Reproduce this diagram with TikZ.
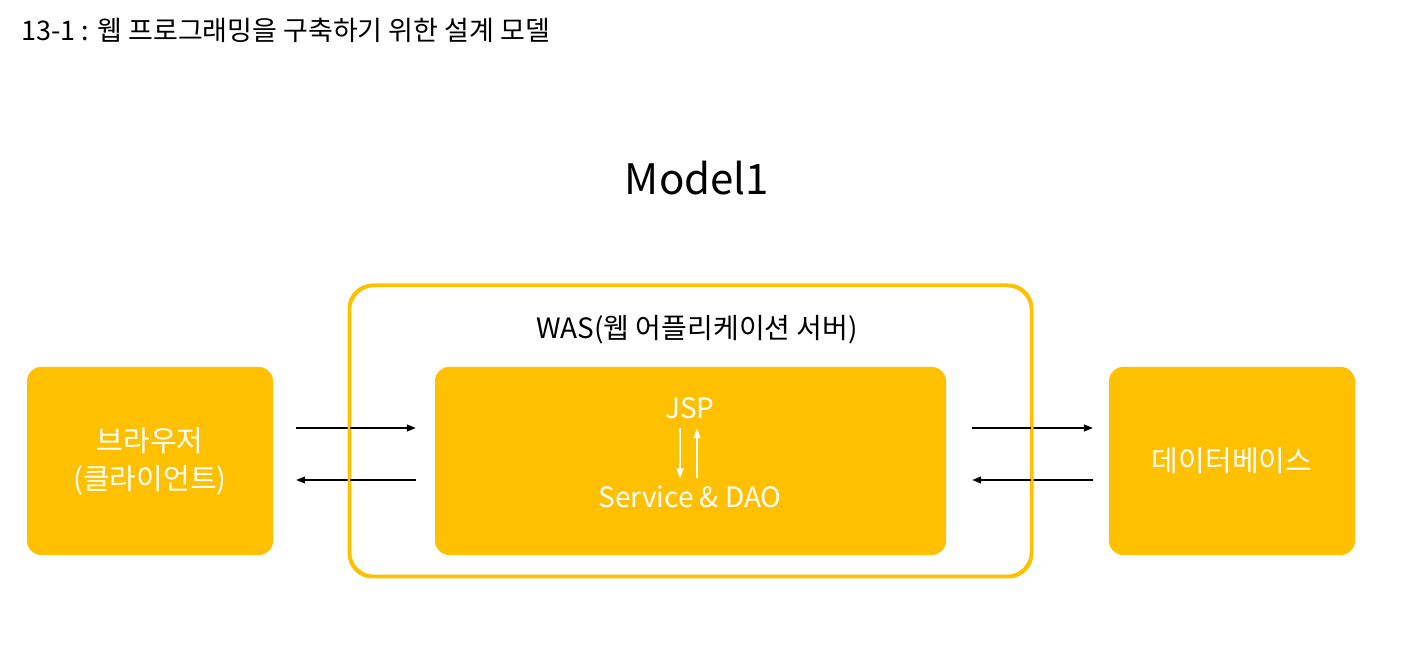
\documentclass[tikz,border=0pt]{standalone}
\usepackage{fontspec}
\setmainfont{Noto Sans CJK KR}
\usepackage{tikz}
\usetikzlibrary{arrows.meta, positioning}
\definecolor{amber}{HTML}{FFC000}
\definecolor{ink}{HTML}{000000}
\tikzset{
  % Filled boxes
  block/.style={
    fill=amber, rounded corners=14pt,
    minimum height=188pt, inner sep=0pt,
    font=\fontsize{29}{38}\selectfont, text=white, align=center,
  },
  % Server frame
  frame/.style={
    draw=amber, line width=2.5pt, fill=white, rounded corners=24pt,
    minimum width=681pt, minimum height=290pt, inner sep=0pt,
  },
  % Arrows
  flow/.style={-{Triangle[length=9pt, width=7pt]}, line width=1.3pt, ink},
  inflow/.style={-{Triangle[length=10pt, width=7pt]}, line width=1.6pt, white},
  % Texts
  label/.style={font=\fontsize{28}{34}\selectfont, text=ink},
}

\begin{document}
\begin{tikzpicture}[x=1pt, y=1pt]
\useasboundingbox (0,0) rectangle (1407,658);

% ====================================================================
% Titles
% ====================================================================
\node[font=\fontsize{27}{32}\selectfont, anchor=west] (title) at (18,628)
  {13-1 : 웹 프로그래밍을 구축하기 위한 설계 모델};
\node[font=\fontsize{42}{50}\selectfont] (model) at (697,480) {Model1};

% ====================================================================
% WAS frame
% ====================================================================
\node[frame] (was) at (690.5,227) {};
\node[label] (waslabel) at (697,328) {WAS(웹 어플리케이션 서버)};

% ====================================================================
% Boxes
% ====================================================================
\node[block, minimum width=246pt] (browser) at (150,197)
  {브라우저\\(클라이언트)};
\node[block, minimum width=511pt] (inner) at (690.5,197) {};
\node[block, minimum width=246pt] (db) at (1232,197) {데이터베이스};

\node[label, text=white] (jsp) at (690,250) {JSP};
\node[label, text=white] (svc) at (690,161) {Service \& DAO};

% JSP <-> Service
\draw[inflow, shorten <=6pt, shorten >=4pt]
  ([xshift=-10pt]jsp.south) -- ([xshift=-10pt]svc.north);
\draw[inflow, shorten <=4pt, shorten >=6pt]
  ([xshift=7pt]svc.north) -- ([xshift=7pt]jsp.south);

% ====================================================================
% Requests and responses
% ====================================================================
\draw[flow, shorten <=23pt, shorten >=19pt]
  ([yshift=33pt]browser.east) -- ([yshift=33pt]inner.west);
\draw[flow, shorten <=19pt, shorten >=23pt]
  ([yshift=-19pt]inner.west) -- ([yshift=-19pt]browser.east);
\draw[flow, shorten <=26pt, shorten >=16pt]
  ([yshift=33pt]inner.east) -- ([yshift=33pt]db.west);
\draw[flow, shorten <=16pt, shorten >=26pt]
  ([yshift=-19pt]db.west) -- ([yshift=-19pt]inner.east);

% frame line over the arrows
\draw[draw=amber, line width=2.5pt, rounded corners=24pt]
  (was.south west) rectangle (was.north east);

\end{tikzpicture}
\end{document}
